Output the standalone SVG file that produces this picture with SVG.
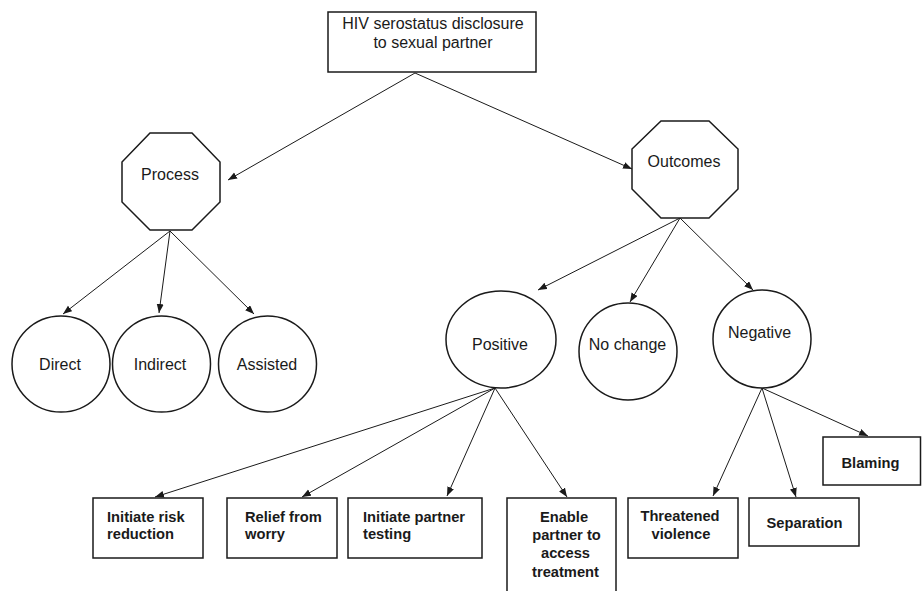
<svg xmlns="http://www.w3.org/2000/svg" width="922" height="591" viewBox="0 0 922 591">
<style>
.shape{fill:#fff;stroke:#1a1a1a;stroke-width:1.5}
.t{font-family:"Liberation Sans",Arial,sans-serif;font-size:16px;fill:#1a1a1a;text-anchor:middle}
.b{font-family:"Liberation Sans",Arial,sans-serif;font-size:14.7px;font-weight:bold;fill:#1a1a1a}
.c{text-anchor:middle}
.edge{stroke:#1a1a1a;stroke-width:1;fill:none;marker-end:url(#arr)}
</style>
<defs>
<marker id="arr" markerUnits="userSpaceOnUse" markerWidth="10" markerHeight="8" refX="9" refY="3.5" orient="auto">
<path d="M0,0 L9,3.5 L0,7 z" fill="#1a1a1a"/>
</marker>
</defs>
<rect width="922" height="591" fill="#fff"/>
<g id="connectors">
<line class="edge" x1="415" y1="73" x2="228" y2="180"/>
<line class="edge" x1="415" y1="73" x2="632" y2="169"/>
<line class="edge" x1="170" y1="231" x2="63" y2="314"/>
<line class="edge" x1="170" y1="231" x2="159" y2="313"/>
<line class="edge" x1="170" y1="231" x2="254" y2="314"/>
<line class="edge" x1="680" y1="218" x2="538" y2="290"/>
<line class="edge" x1="680" y1="218" x2="630" y2="302"/>
<line class="edge" x1="680" y1="218" x2="753" y2="290"/>
<line class="edge" x1="495" y1="388" x2="155" y2="497"/>
<line class="edge" x1="495" y1="388" x2="302" y2="497"/>
<line class="edge" x1="495" y1="388" x2="447" y2="496"/>
<line class="edge" x1="495" y1="388" x2="567" y2="497"/>
<line class="edge" x1="762" y1="388" x2="713" y2="496"/>
<line class="edge" x1="762" y1="388" x2="796" y2="497"/>
<line class="edge" x1="762" y1="388" x2="868" y2="436"/>
</g>
<g id="root">
<rect class="shape" x="328" y="12" width="208" height="60"/>
<text class="t" x="433" y="29">HIV serostatus disclosure</text>
<text class="t" x="433" y="48">to sexual partner</text>
</g>
<g id="process">
<polygon class="shape" points="150,133 192,133 220,162 220,202 192,230 150,230 122,202 122,162"/>
<text class="t" x="170" y="179.5">Process</text>
</g>
<g id="outcomes">
<polygon class="shape" points="661,121 709,121 738,149 738,189 709,218 661,218 632,189 632,149"/>
<text class="t" x="684" y="167">Outcomes</text>
</g>
<g id="direct">
<ellipse class="shape" cx="61" cy="364" rx="49" ry="48"/>
<text class="t" x="60" y="370">Direct</text>
</g>
<g id="indirect">
<ellipse class="shape" cx="161.5" cy="364" rx="49" ry="48"/>
<text class="t" x="160" y="370">Indirect</text>
</g>
<g id="assisted">
<ellipse class="shape" cx="267.5" cy="364" rx="49" ry="48"/>
<text class="t" x="267" y="370">Assisted</text>
</g>
<g id="positive">
<ellipse class="shape" cx="501" cy="339.5" rx="55" ry="48.5"/>
<text class="t" x="500" y="350">Positive</text>
</g>
<g id="nochange">
<ellipse class="shape" cx="628" cy="351.5" rx="49" ry="48.5"/>
<text class="t" x="627.5" y="350">No change</text>
</g>
<g id="negative">
<ellipse class="shape" cx="762" cy="339" rx="49" ry="49"/>
<text class="t" x="759.5" y="338">Negative</text>
</g>
<g id="risk">
<rect class="shape" x="93" y="498" width="110" height="60"/>
<text class="b" x="107" y="521.5">Initiate risk</text>
<text class="b" x="107" y="539">reduction</text>
</g>
<g id="relief">
<rect class="shape" x="227" y="498" width="110" height="60"/>
<text class="b" x="245" y="521.5">Relief from</text>
<text class="b" x="245" y="539">worry</text>
</g>
<g id="testing">
<rect class="shape" x="348" y="498" width="134" height="60"/>
<text class="b" x="363" y="521.5">Initiate partner</text>
<text class="b" x="363" y="539">testing</text>
</g>
<g id="enable">
<rect class="shape" x="507" y="498" width="109" height="110"/>
<text class="b c" x="564" y="522">Enable</text>
<text class="b c" x="566.5" y="540">partner to</text>
<text class="b c" x="565.5" y="558">access</text>
<text class="b c" x="565.5" y="577">treatment</text>
</g>
<g id="threatened">
<rect class="shape" x="628" y="498" width="110" height="60"/>
<text class="b c" x="680" y="521">Threatened</text>
<text class="b c" x="681" y="539">violence</text>
</g>
<g id="separation">
<rect class="shape" x="749" y="498" width="110" height="48"/>
<text class="b c" x="804.5" y="528">Separation</text>
</g>
<g id="blaming">
<rect class="shape" x="823" y="437" width="97.5" height="48"/>
<text class="b c" x="870.5" y="468">Blaming</text>
</g>
</svg>
